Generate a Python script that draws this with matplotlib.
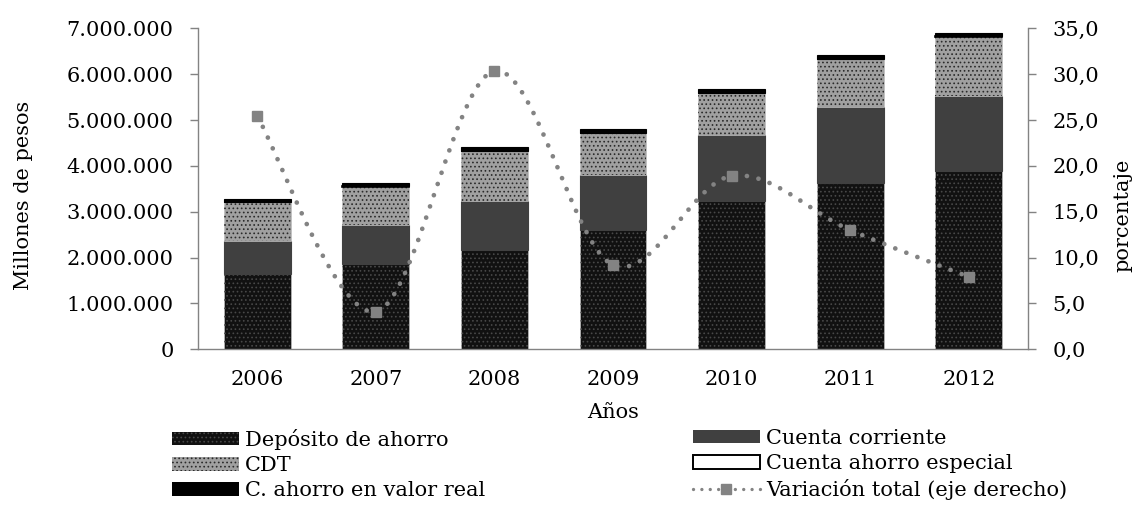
import numpy as np
import matplotlib
matplotlib.use("Agg")
import matplotlib.pyplot as plt
from matplotlib.patches import Patch
from matplotlib.lines import Line2D
from matplotlib.bezier import BezierSegment
from matplotlib.ticker import FuncFormatter

# data
years = ["2006", "2007", "2008", "2009", "2010", "2011", "2012"]
deposito = [1635000, 1853000, 2160000, 2595000, 3240000, 3630000, 3890000]
corriente = [725000, 857000, 1080000, 1215000, 1440000, 1650000, 1640000]
cdt = [845000, 836000, 1080000, 900000, 900000, 1040000, 1290000]
especial = [10000, 10000, 10000, 10000, 10000, 10000, 10000]
valor_real = [55000, 77000, 88000, 80000, 80000, 90000, 60000]
variacion = [25.4, 4.1, 30.35, 9.2, 18.9, 13.0, 7.9]

FS = 15
plt.rcParams["font.family"] = "DejaVu Serif"
plt.rcParams["hatch.linewidth"] = 0.7

GRAY = "#838383"

fig = plt.figure(figsize=(11.41, 5.08), dpi=100)
ax = fig.add_axes([198 / 1141, 1 - 349.3 / 508, 830 / 1141, 321 / 508])
ax2 = ax.twinx()

x = np.arange(len(years))
w = 0.565
bottom = np.zeros(len(years))

# name, values, face, hatch colour, hatch, edge
series = [
    ("Depósito de ahorro", deposito, "#111111", "#484848", "....", None),
    ("Cuenta corriente", corriente, "#404040", None, None, None),
    ("CDT", cdt, "#a0a0a0", "#2a2a2a", "....", None),
    ("Cuenta ahorro especial", especial, "white", None, None, "black"),
    ("C. ahorro en valor real", valor_real, "black", None, None, None),
]
handles = {}
for name, vals, face, hcol, hatch, edge in series:
    vals = np.array(vals, dtype=float)
    if hatch:
        ax.bar(x, vals, w, bottom=bottom, color=face, edgecolor="#bdbdbd", linewidth=0.5, zorder=2)
        ax.bar(x, vals, w, bottom=bottom, facecolor="none", edgecolor=hcol, hatch=hatch, linewidth=0, zorder=2)
        handles[name] = Patch(facecolor=face, edgecolor=hcol, hatch=hatch, linewidth=0)
    elif edge:
        ax.bar(x, vals, w, bottom=bottom, color=face, edgecolor=edge, linewidth=1.2, zorder=2)
        handles[name] = Patch(facecolor=face, edgecolor=edge, linewidth=1.4)
    else:
        ax.bar(x, vals, w, bottom=bottom, color=face, edgecolor=face, linewidth=0.8, zorder=2)
        handles[name] = Patch(facecolor=face, edgecolor=face, linewidth=0)
    bottom += vals

# smoothed line, excel style: cubic bezier through the points
y = np.array(variacion, dtype=float)
pts = np.column_stack([x, y])
n = len(pts)
curve = [pts[:1]]
t = np.linspace(0, 1, 60)[1:]
for i in range(n - 1):
    p0 = pts[max(i - 1, 0)]
    p1 = pts[i]
    p2 = pts[i + 1]
    p3 = pts[min(i + 2, n - 1)]
    seg = BezierSegment(np.array([p1, p1 + (p2 - p0) / 6, p2 - (p3 - p1) / 6, p2]))
    curve.append(seg(t))
curve = np.vstack(curve)
ax2.plot(curve[:, 0], curve[:, 1], color=GRAY, linewidth=3.4, linestyle=(0, (0.01, 2.5)),
         dash_capstyle="round", zorder=3)
ax2.plot(x, y, linestyle="none", marker="s", markersize=7.5, color=GRAY, zorder=4)

ax.set_xlim(-0.5, 6.5)
ax.set_ylim(0, 7000000)
ax2.set_ylim(0, 35)
ax.set_yticks(np.arange(0, 7000001, 1000000))
ax2.set_yticks(np.arange(0, 36, 5))
ax.yaxis.set_major_formatter(FuncFormatter(lambda v, p: f"{int(v):,}".replace(",", ".")))
ax2.yaxis.set_major_formatter(FuncFormatter(lambda v, p: f"{v:.1f}".replace(".", ",")))
ax.set_xticks(x)
ax.set_xticklabels(years)

for a in (ax, ax2):
    a.spines["top"].set_visible(False)
    for s in a.spines.values():
        s.set_color(GRAY)
        s.set_linewidth(1.0)
    a.tick_params(axis="y", colors=GRAY, labelcolor="black", length=6, width=1.0,
                  direction="out", pad=11.5, labelsize=FS)
ax2.spines["left"].set_visible(False)
ax2.spines["bottom"].set_visible(False)
ax.spines["right"].set_visible(False)
ax.tick_params(axis="x", length=0, pad=15, labelsize=FS)

ax.set_xlabel("Años", fontsize=FS, labelpad=10)
ax.set_ylabel("Millones de pesos", fontsize=FS)
ax.yaxis.set_label_coords(-0.199, 0.48)
ax2.set_ylabel("porcentaje", fontsize=FS)
ax2.yaxis.set_label_coords(1.103, 0.418)

line_handle = Line2D([], [], color=GRAY, linewidth=2.4, linestyle=(0, (0.01, 2.5)),
                     dash_capstyle="round", marker="s", markersize=7.5)

leg_kw = dict(frameon=False, fontsize=FS, handlelength=3.2, handleheight=0.62,
              handletextpad=0.3, labelspacing=0.3, borderpad=0, borderaxespad=0)
fig.legend([handles["Depósito de ahorro"], handles["CDT"], handles["C. ahorro en valor real"]],
           ["Depósito de ahorro", "CDT", "C. ahorro en valor real"],
           loc="upper left", bbox_to_anchor=(172 / 1141, 1 - 429 / 508), **leg_kw)
fig.legend([handles["Cuenta corriente"], handles["Cuenta ahorro especial"], line_handle],
           ["Cuenta corriente", "Cuenta ahorro especial", "Variación total (eje derecho)"],
           loc="upper left", bbox_to_anchor=(693 / 1141, 1 - 429 / 508), **leg_kw)

fig.savefig("out.png", dpi=100)
